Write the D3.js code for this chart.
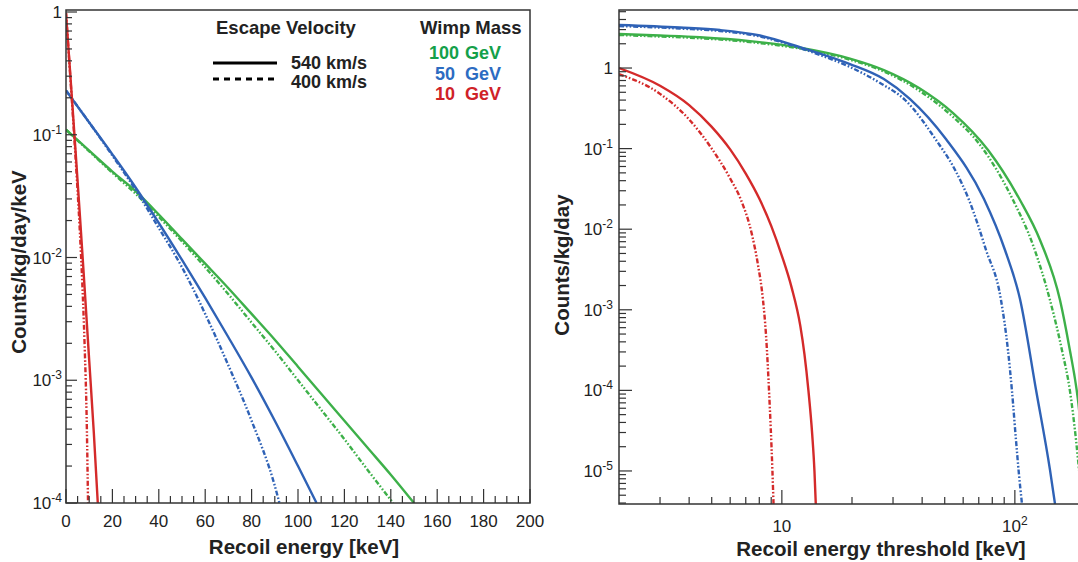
<!DOCTYPE html>
<html><head><meta charset="utf-8">
<script src="https://cdn.jsdelivr.net/npm/d3@7"></script>
<style>body{margin:0;background:#fff}svg{display:block;font-family:"Liberation Sans",Arial,sans-serif}</style>
</head><body>
<svg id="chart" width="1078" height="562"></svg>
<script>
// ---------------- DATA ----------------
// Left panel: differential rate (Counts/kg/day/keV) vs recoil energy (keV)
const diffE_g540 = [0,10,20,30,40,50,60,70,80,90,100,110,120,130,140,150];
const diffR_g540 = [0.110,0.0741,0.0501,0.0347,0.0224,0.0141,0.00891,0.00562,0.00347,0.00214,0.00129,7.76e-4,4.68e-4,2.82e-4,1.70e-4,1.0e-4];
const diffE_g400 = [0,10,20,30,40,50,60,70,80,90,100,110,120,130,141];
const diffR_g400 = [0.110,0.0733,0.0490,0.0331,0.0214,0.0135,0.00832,0.00501,0.00295,0.00174,0.00100,5.75e-4,3.31e-4,1.86e-4,1.0e-4];
const diffE_b540 = [0,10,20,30,40,50,60,70,80,90,100,108];
const diffR_b540 = [0.229,0.126,0.0692,0.0372,0.0191,0.00955,0.00468,0.00224,0.00105,4.68e-4,2.00e-4,1.0e-4];
const diffE_b400 = [0,10,20,30,40,50,60,70,80,90,92];
const diffR_b400 = [0.229,0.126,0.0676,0.0355,0.0174,0.00832,0.00347,0.00132,4.68e-4,1.38e-4,1.0e-4];
const diffE_r540 = [0,2,4,6,8,10,12,13.7];
const diffR_r540 = [0.98,0.282,0.0794,0.0219,0.00575,0.00145,3.72e-4,1.0e-4];
const diffE_r400 = [0,2,4,6,7,8,9,9.5];
const diffR_r400 = [0.98,0.269,0.0708,0.0158,0.00631,0.0020,3.98e-4,1.0e-4];

// Right panel: integrated rate (Counts/kg/day) vs recoil energy threshold (keV)
const intE_g540 = [2,3.00,4.45,7.30,11.96,19.6,27.4,38.8,54.3,76.7,105.2,128.2,156.2,170.6,186.6,200];
const intR_g540 = [2.64,2.53,2.41,2.16,1.79,1.31,0.944,0.565,0.276,0.0961,0.0230,0.00734,0.00132,3.66e-4,7.6e-5,1.0e-5];
const intE_g400 = [2,3.00,4.45,7.30,11.96,19.6,27.4,38.8,54.3,70.9,98.2,119.6,141.5,159.2,172.4,183.0,190.4];
const intR_g400 = [2.57,2.46,2.34,2.10,1.74,1.27,0.905,0.526,0.247,0.111,0.0230,0.00637,0.00132,3.17e-4,9.8e-5,2.43e-5,7.7e-6];
const intE_b540 = [2,3.65,5.43,8.06,11.96,14.4,19.6,27.4,35.5,50.6,73.7,90.7,105.2,123.3,141.5,148.7];
const intR_b540 = [3.42,3.18,2.96,2.53,1.82,1.535,1.121,0.730,0.412,0.1315,0.0237,0.00552,0.00136,1.01e-4,1.03e-5,3.9e-6];
const intE_b400 = [2,3.65,5.43,8.06,11.96,14.4,19.6,26.4,33.8,45.9,55.4,63.6,75.2,87.2,93.4,97.2,101.1,104.2,107.3];
const intR_b400 = [3.32,3.09,2.88,2.46,1.77,1.47,1.03,0.652,0.401,0.128,0.0543,0.0230,0.00552,0.00132,3.17e-4,9.8e-5,2.43e-5,8.9e-6,3.9e-6];
const intE_r540 = [2,3,4,5,6,7,8,9,10,11,12,12.5,13,13.5,13.8,14.0];
const intR_r540 = [1.0,0.603,0.347,0.186,0.0977,0.0490,0.0240,0.0110,0.00468,0.00191,6.31e-4,2.82e-4,1.0e-4,2.82e-5,1.0e-5,3.55e-6];
const intE_r400 = [2,3,4,5,6,6.68,7.45,7.90,8.30,8.55,8.81,9.11,9.21];
const intR_r400 = [0.841,0.478,0.230,0.100,0.0426,0.0230,0.00847,0.00360,0.00132,4.87e-4,9.8e-5,1.0e-5,3.9e-6];

// Axis ticks / labels
const leftXTicks = [0,20,40,60,80,100,120,140,160,180,200];
const leftYDecades = [1,1e-1,1e-2,1e-3,1e-4];
const rightXDecades = [10,100];
const rightYDecades = [1,1e-1,1e-2,1e-3,1e-4,1e-5];

// Legend
const legendTitleVel = "Escape Velocity";
const legendTitleMass = "Wimp Mass";
const velLabels = ["540 km/s", "400 km/s"];
const massLabels = ["100", "50", "10"];
const massUnit = "GeV";

// ---------------- STYLE ----------------
const lineCol = {g:"#3db049", b:"#2f62b6", r:"#d42a2a"};
const textCol = {g:"#14a04a", b:"#2c6cc2", r:"#cf2228"};
const DASH = "5,2,1.6,2,1.6,2";
const AX = "#333";

const svg = d3.select("#chart");

function zip(E, R){ return E.map((e,i)=>({e, r:R[i]})); }

const leftSeries = [
  {d:zip(diffE_g540,diffR_g540), c:"g", dash:false},
  {d:zip(diffE_g400,diffR_g400), c:"g", dash:true},
  {d:zip(diffE_b540,diffR_b540), c:"b", dash:false},
  {d:zip(diffE_b400,diffR_b400), c:"b", dash:true},
  {d:zip(diffE_r540,diffR_r540), c:"r", dash:false},
  {d:zip(diffE_r400,diffR_r400), c:"r", dash:true},
];
const rightSeries = [
  {d:zip(intE_g540,intR_g540), c:"g", dash:false},
  {d:zip(intE_g400,intR_g400), c:"g", dash:true},
  {d:zip(intE_b540,intR_b540), c:"b", dash:false},
  {d:zip(intE_b400,intR_b400), c:"b", dash:true},
  {d:zip(intE_r540,intR_r540), c:"r", dash:false},
  {d:zip(intE_r400,intR_r400), c:"r", dash:true},
];

// ---------------- SCALES ----------------
const L = {x0:66, x1:530, y0:10, y1:503};
const xL = d3.scaleLinear().domain([0,200]).range([L.x0, L.x1]);
const yL = d3.scaleLog().domain([1e-4, Math.pow(10, 2/122.75)]).range([L.y1, L.y0]);

const R = {x0:619, x1:1085, y0:10, y1:504};
const xR = d3.scaleLog().domain([2,200]).range([R.x0, R.x1]);
const yR = d3.scaleLog().domain([Math.pow(10,-5.41), Math.pow(10,0.72)]).range([R.y1, R.y0]);

// clip paths
const defs = svg.append("defs");
defs.append("clipPath").attr("id","clipL").append("rect")
  .attr("x",L.x0).attr("y",L.y0).attr("width",L.x1-L.x0).attr("height",L.y1-L.y0);
defs.append("clipPath").attr("id","clipR").append("rect")
  .attr("x",R.x0).attr("y",R.y0).attr("width",R.x1-R.x0).attr("height",R.y1-R.y0);

function drawCurves(series, xs, ys, clip){
  const g = svg.append("g").attr("clip-path",`url(#${clip})`);
  const line = d3.line().x(d=>xs(d.e)).y(d=>ys(d.r)).curve(d3.curveMonotoneX);
  series.forEach(s=>{
    g.append("path").attr("d", line(s.d)).attr("fill","none")
      .attr("stroke", lineCol[s.c]).attr("stroke-width",2.4)
      .attr("stroke-dasharray", s.dash?DASH:null);
  });
}

function powLabel(sel, v){
  const e = Math.round(Math.log10(v));
  if (e === 0) { sel.text("1"); return; }
  if (e === 1) { sel.text("10"); return; }
  sel.append("tspan").text("10");
  sel.append("tspan").attr("font-size",12).attr("dy",-7).text(String(e));
}

function logTicksY(ys, x0, dir, majLen, minLen){
  const [lo, hi] = ys.domain();
  const g = svg.append("g").attr("stroke",AX).attr("stroke-width",1.2);
  for (let k = Math.floor(Math.log10(lo)); k <= Math.ceil(Math.log10(hi)); k++){
    for (let m = 1; m <= 9; m++){
      const v = m*Math.pow(10,k);
      if (v < lo*0.999 || v > hi*1.001) continue;
      const y = ys(v);
      const len = m===1 ? majLen : minLen;
      g.append("line").attr("x1",x0).attr("x2",x0+dir*len).attr("y1",y).attr("y2",y);
    }
  }
}
function logTicksX(xs, y0, majLen, minLen){
  const [lo, hi] = xs.domain();
  const g = svg.append("g").attr("stroke",AX).attr("stroke-width",1.2);
  for (let k = Math.floor(Math.log10(lo)); k <= Math.ceil(Math.log10(hi)); k++){
    for (let m = 1; m <= 9; m++){
      const v = m*Math.pow(10,k);
      if (v < lo*1.001 || v > hi*1.001) continue;
      const x = xs(v);
      const len = m===1 ? majLen : minLen;
      g.append("line").attr("x1",x).attr("x2",x).attr("y1",y0).attr("y2",y0-len);
    }
  }
}

// ---------------- LEFT PANEL ----------------
drawCurves(leftSeries, xL, yL, "clipL");
svg.append("rect").attr("x",L.x0).attr("y",L.y0).attr("width",L.x1-L.x0).attr("height",L.y1-L.y0)
  .attr("fill","none").attr("stroke",AX).attr("stroke-width",1.5);
logTicksY(yL, L.x0, 1, 11, 6);
{
  const g = svg.append("g").attr("stroke",AX).attr("stroke-width",1.2);
  d3.range(0, 201, 5).forEach(v=>{
    const x = xL(v);
    const len = (v%20===0) ? 14 : 7;
    g.append("line").attr("x1",x).attr("x2",x).attr("y1",L.y1).attr("y2",L.y1-len);
  });
}
svg.append("g").selectAll("text").data(leftXTicks).join("text")
  .attr("x",d=>xL(d)).attr("y",L.y1+24).attr("text-anchor","middle")
  .attr("font-size",17).attr("fill","#222").text(d=>d);
leftYDecades.forEach(v=>{
  const t = svg.append("text").attr("x",L.x0-4).attr("y",yL(v)+6)
    .attr("text-anchor","end").attr("font-size",17).attr("fill","#222");
  powLabel(t, v);
});
svg.append("text").attr("x",(L.x0+L.x1)/2+6).attr("y",554).attr("text-anchor","middle")
  .attr("font-size",20.5).attr("font-weight","bold").attr("fill","#222").text("Recoil energy [keV]");
svg.append("text").attr("transform","translate(26,262) rotate(-90)").attr("text-anchor","middle")
  .attr("font-size",20.5).attr("font-weight","bold").attr("fill","#222").text("Counts/kg/day/keV");

// legend
svg.append("text").attr("x",216).attr("y",34).attr("font-size",18.5).attr("font-weight","bold")
  .attr("fill","#222").text(legendTitleVel);
svg.append("text").attr("x",420).attr("y",34).attr("font-size",18.5).attr("font-weight","bold")
  .attr("fill","#222").text(legendTitleMass);
svg.append("line").attr("x1",213).attr("x2",277).attr("y1",63).attr("y2",63)
  .attr("stroke","#000").attr("stroke-width",3);
svg.append("line").attr("x1",213).attr("x2",277).attr("y1",79).attr("y2",79)
  .attr("stroke","#000").attr("stroke-width",3).attr("stroke-dasharray","6,5");
velLabels.forEach((t,i)=>{
  svg.append("text").attr("x",291).attr("y",69+i*19).attr("font-size",18).attr("font-weight","bold")
    .attr("fill","#222").text(t);
});
const massKeys = ["g","b","r"];
const massX = [429,435,435];
massLabels.forEach((t,i)=>{
  const y = 59 + i*20.5;
  svg.append("text").attr("x",massX[i]).attr("y",y).attr("font-size",18).attr("font-weight","bold")
    .attr("fill",textCol[massKeys[i]]).text(t);
  svg.append("text").attr("x",465).attr("y",y).attr("font-size",18).attr("font-weight","bold")
    .attr("fill",textCol[massKeys[i]]).text(massUnit);
});

// ---------------- RIGHT PANEL ----------------
drawCurves(rightSeries, xR, yR, "clipR");
svg.append("path").attr("d",`M${R.x1},${R.y0}H${R.x0}V${R.y1}H${R.x1}`)
  .attr("fill","none").attr("stroke",AX).attr("stroke-width",1.5);
logTicksY(yR, R.x0, 1, 13, 7);
logTicksX(xR, R.y1, 14, 7);
rightYDecades.forEach(v=>{
  const t = svg.append("text").attr("x",R.x0-6).attr("y",yR(v)+6)
    .attr("text-anchor","end").attr("font-size",17).attr("fill","#222");
  powLabel(t, v);
});
rightXDecades.forEach(v=>{
  const t = svg.append("text").attr("x",xR(v)).attr("y",R.y1+28)
    .attr("text-anchor","middle").attr("font-size",17).attr("fill","#222");
  powLabel(t, v);
});
svg.append("text").attr("x",881).attr("y",556).attr("text-anchor","middle")
  .attr("font-size",20.5).attr("font-weight","bold").attr("fill","#222").text("Recoil energy threshold [keV]");
svg.append("text").attr("transform","translate(569,265) rotate(-90)").attr("text-anchor","middle")
  .attr("font-size",20.5).attr("font-weight","bold").attr("fill","#222").text("Counts/kg/day");
</script>
</body></html>
